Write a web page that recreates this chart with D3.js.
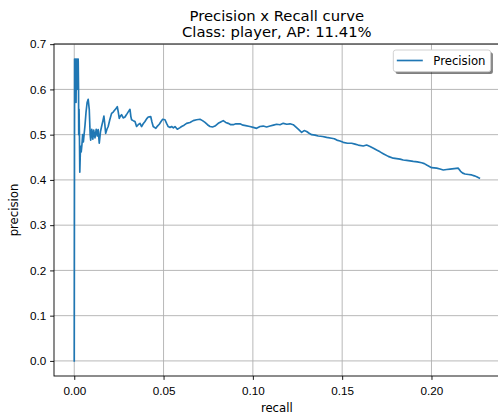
<!DOCTYPE html>
<html>
<head>
<meta charset="utf-8">
<script src="https://cdn.jsdelivr.net/npm/d3@7"></script>
<style>
  html, body { margin: 0; padding: 0; background: #fff; }
  svg { display: block; font-family: "DejaVu Sans", sans-serif; }
  .grid line { stroke: #b0b0b0; stroke-width: 0.9; }
  .axis text { font-size: 11.7px; fill: #000; }
  .axis line { stroke: #000; stroke-width: 0.9; }
  .axis path { display: none; }
</style>
</head>
<body>
<div id="chart"></div>
<script>
var titleLines = ["Precision x Recall curve", "Class: player, AP: 11.41%"];
var seriesName = "Precision";
var xTicks = [0.00, 0.05, 0.10, 0.15, 0.20];
var yTicks = [0.0, 0.1, 0.2, 0.3, 0.4, 0.5, 0.6, 0.7];

var recall = [
  0, 0.0002, 0.0005, 0.0007, 0.001, 0.0012, 0.0015, 0.0017, 0.002, 0.0022,
  0.0024, 0.0025, 0.0027, 0.0029, 0.0031, 0.0035, 0.0039, 0.0043, 0.0047, 0.0051,
  0.0055, 0.006, 0.0066, 0.0072, 0.0078, 0.0084, 0.0089, 0.0092, 0.0098, 0.0104,
  0.0109, 0.0116, 0.0123, 0.0129, 0.0134, 0.014, 0.0147, 0.0153, 0.016, 0.0166,
  0.0171, 0.0176, 0.0183, 0.019, 0.0199, 0.0209, 0.0218, 0.0228, 0.0235, 0.0241,
  0.0246, 0.0252, 0.0258, 0.0265, 0.0274, 0.0284, 0.029, 0.0297, 0.0305, 0.0312,
  0.0317, 0.0321, 0.033, 0.034, 0.0349, 0.0358, 0.0368, 0.0377, 0.0386, 0.0396,
  0.0405, 0.0414, 0.0428, 0.0435, 0.0442, 0.0457, 0.0466, 0.0476, 0.0486, 0.0495,
  0.0508, 0.0517, 0.0526, 0.0536, 0.0545, 0.0555, 0.0564, 0.0577, 0.059, 0.0601,
  0.0615, 0.0629, 0.0648, 0.0666, 0.0685, 0.0704, 0.0718, 0.0732, 0.0746, 0.076,
  0.0774, 0.0788, 0.0806, 0.082, 0.0834, 0.0848, 0.0862, 0.0876, 0.089, 0.0905,
  0.0928, 0.0945, 0.096, 0.0983, 0.1002, 0.1021, 0.104, 0.1058, 0.1077, 0.1096,
  0.1115, 0.1133, 0.1152, 0.117, 0.119, 0.1208, 0.1226, 0.124, 0.1254, 0.1273,
  0.1287, 0.1301, 0.1315, 0.1329, 0.1348, 0.1366, 0.139, 0.1413, 0.1441, 0.1456,
  0.147, 0.1488, 0.1506, 0.153, 0.1553, 0.1572, 0.159, 0.1618, 0.1637, 0.1656,
  0.1675, 0.1693, 0.1712, 0.173, 0.1758, 0.1786, 0.1805, 0.1824, 0.1842, 0.1861,
  0.188, 0.1898, 0.1921, 0.1945, 0.196, 0.1973, 0.2001, 0.2029, 0.2048, 0.2066,
  0.2085, 0.2104, 0.2127, 0.215, 0.2163, 0.2175, 0.2188, 0.2207, 0.2225, 0.224,
  0.2253, 0.2268
];

var precision = [
  0, 0.667, 0.6, 0.667, 0.571, 0.667, 0.6, 0.667, 0.615, 0.667,
  0.6, 0.5, 0.556, 0.5, 0.417, 0.474, 0.462, 0.478, 0.5, 0.484,
  0.5, 0.52, 0.55, 0.571, 0.578, 0.556, 0.5, 0.488, 0.512, 0.49,
  0.51, 0.493, 0.512, 0.497, 0.511, 0.481, 0.507, 0.518, 0.53, 0.541,
  0.523, 0.503, 0.512, 0.518, 0.533, 0.547, 0.55, 0.555, 0.558, 0.562,
  0.551, 0.536, 0.541, 0.544, 0.537, 0.539, 0.543, 0.547, 0.552, 0.556,
  0.54, 0.533, 0.531, 0.529, 0.518, 0.522, 0.525, 0.518, 0.524, 0.529,
  0.535, 0.539, 0.54, 0.528, 0.518, 0.514, 0.519, 0.523, 0.529, 0.534,
  0.533, 0.525, 0.518, 0.516, 0.518, 0.515, 0.518, 0.512, 0.515, 0.518,
  0.521, 0.525, 0.527, 0.531, 0.533, 0.534, 0.531, 0.527, 0.522, 0.518,
  0.517, 0.519, 0.525, 0.528, 0.531, 0.527, 0.525, 0.522, 0.522, 0.524,
  0.524, 0.521, 0.52, 0.518, 0.516, 0.514, 0.518, 0.519, 0.517, 0.519,
  0.521, 0.523, 0.522, 0.525, 0.523, 0.524, 0.522, 0.517, 0.512, 0.505,
  0.509, 0.507, 0.503, 0.5, 0.499, 0.497, 0.496, 0.494, 0.492, 0.491,
  0.488, 0.486, 0.483, 0.481, 0.481, 0.479, 0.477, 0.475, 0.477, 0.474,
  0.47, 0.466, 0.462, 0.458, 0.452, 0.448, 0.447, 0.446, 0.444, 0.443,
  0.442, 0.441, 0.44, 0.438, 0.436, 0.433, 0.427, 0.426, 0.424, 0.422,
  0.423, 0.424, 0.425, 0.426, 0.419, 0.415, 0.413, 0.412, 0.411, 0.409,
  0.407, 0.404
];

(function () {
  'use strict';

  var width = 498, height = 420;
  // axes box, right edge falls just outside the picture like the original
  var box = { left: 54, right: 499.6, top: 44, bottom: 376 };

  var points = recall.map(function (r, i) { return { r: r, p: precision[i] }; });

  // matplotlib style 5% margins
  function padded(ext) {
    var m = (ext[1] - ext[0]) * 0.05;
    return [ext[0] - m, ext[1] + m];
  }

  var x = d3.scaleLinear()
    .domain(padded(d3.extent(recall)))
    .range([box.left, box.right]);

  var y = d3.scaleLinear()
    .domain(padded(d3.extent(precision)))
    .range([box.bottom, box.top]);

  var svg = d3.select("#chart").append("svg")
    .attr("width", width)
    .attr("height", height);

  var plotW = box.right - box.left, plotH = box.bottom - box.top;

  svg.append("defs").append("clipPath")
    .attr("id", "plotclip")
    .append("rect")
    .attr("x", box.left).attr("y", box.top)
    .attr("width", plotW).attr("height", plotH);

  //grid
  svg.append("g")
    .attr("class", "grid")
    .selectAll("line.gx")
    .data(xTicks)
    .enter().append("line")
    .attr("x1", function (d) { return x(d); })
    .attr("x2", function (d) { return x(d); })
    .attr("y1", box.top)
    .attr("y2", box.bottom);

  svg.append("g")
    .attr("class", "grid")
    .selectAll("line.gy")
    .data(yTicks)
    .enter().append("line")
    .attr("x1", box.left)
    .attr("x2", box.right)
    .attr("y1", function (d) { return y(d); })
    .attr("y2", function (d) { return y(d); });

  //curve
  var line = d3.line()
    .x(function (d) { return x(d.r); })
    .y(function (d) { return y(d.p); });

  svg.append("path")
    .datum(points)
    .attr("clip-path", "url(#plotclip)")
    .attr("d", line)
    .attr("fill", "none")
    .attr("stroke", "#1f77b4")
    .attr("stroke-width", 1.67)
    .attr("stroke-linejoin", "round")
    .attr("stroke-linecap", "square");

  //axes
  var xAxis = d3.axisBottom(x)
    .tickValues(xTicks)
    .tickSize(3.9)
    .tickPadding(6.5)
    .tickFormat(d3.format(".2f"));

  var yAxis = d3.axisLeft(y)
    .tickValues(yTicks)
    .tickSize(3.9)
    .tickPadding(3.9)
    .tickFormat(d3.format(".1f"));

  svg.append("g")
    .attr("class", "axis")
    .attr("transform", "translate(0," + box.bottom + ")")
    .call(xAxis);

  svg.append("g")
    .attr("class", "axis")
    .attr("transform", "translate(" + box.left + ",0)")
    .call(yAxis);

  // spines
  svg.append("rect")
    .attr("x", box.left).attr("y", box.top)
    .attr("width", plotW).attr("height", plotH)
    .attr("fill", "none")
    .attr("stroke", "#000")
    .attr("stroke-width", 0.9);

  //labels
  svg.append("text")
    .attr("x", (box.left + box.right) / 2)
    .attr("y", 412)
    .attr("text-anchor", "middle")
    .style("font-size", "11.7px")
    .text("recall");

  svg.append("text")
    .attr("transform", "translate(18," + ((box.top + box.bottom) / 2) + ") rotate(-90)")
    .attr("text-anchor", "middle")
    .style("font-size", "11.7px")
    .text("precision");

  svg.selectAll(".title")
    .data(titleLines)
    .enter().append("text")
    .attr("class", "title")
    .attr("x", (box.left + box.right) / 2)
    .attr("y", function (d, i) { return 20.5 + i * 16; })
    .attr("text-anchor", "middle")
    .style("font-size", "14.8px")
    .text(function (d) { return d; });

  //legend
  var lg = svg.append("g").attr("transform", "translate(393.3,50)");
  lg.append("rect")
    .attr("x", 2.2).attr("y", 2.2)
    .attr("width", 97.4).attr("height", 21.7)
    .attr("rx", 2.5)
    .attr("fill", "#000")
    .attr("fill-opacity", 0.5);
  lg.append("rect")
    .attr("width", 97.4).attr("height", 21.7)
    .attr("rx", 2.5)
    .attr("fill", "#fff")
    .attr("stroke", "#cccccc")
    .attr("stroke-width", 0.9);
  lg.append("line")
    .attr("x1", 3.5).attr("x2", 29.5)
    .attr("y1", 10.5).attr("y2", 10.5)
    .attr("stroke", "#1f77b4")
    .attr("stroke-width", 1.67);
  lg.append("text")
    .attr("x", 40)
    .attr("y", 14.8)
    .style("font-size", "11.7px")
    .text(seriesName);
})();
</script>
</body>
</html>
